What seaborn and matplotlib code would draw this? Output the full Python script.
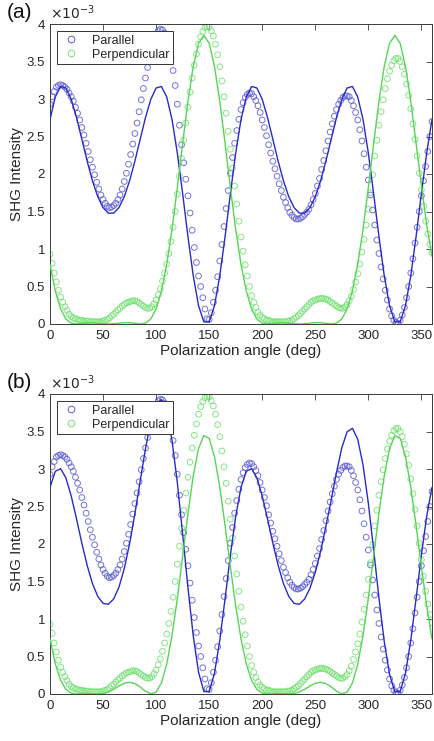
import numpy as np
import matplotlib
matplotlib.use("Agg")
import matplotlib.pyplot as plt
from matplotlib.lines import Line2D
import seaborn as sns

# ---------------- data (intensity in units of 1e-3) ----------------
# measured points every 2 deg, 0..360
angles_data = np.linspace(0, 360, 181)
parallel_data = [
    2.93, 3.03, 3.10, 3.16, 3.18, 3.19, 3.18, 3.16, 3.13, 3.08,
    3.03, 2.97, 2.89, 2.81, 2.72, 2.62, 2.52, 2.41, 2.30, 2.19,
    2.09, 1.99, 1.89, 1.80, 1.72, 1.66, 1.61, 1.57, 1.55, 1.56,
    1.58, 1.61, 1.66, 1.72, 1.80, 1.90, 2.01, 2.13, 2.26, 2.40,
    2.54, 2.68, 2.83, 2.99, 3.14, 3.28, 3.42, 3.55, 3.67, 3.77,
    3.86, 3.91, 3.93, 3.92, 3.88, 3.80, 3.69, 3.55, 3.38, 3.18,
    2.93, 2.65, 2.39, 2.15, 1.93, 1.71, 1.48, 1.25, 1.02, 0.82,
    0.64, 0.50, 0.35, 0.20, 0.07, 0.06, 0.15, 0.29, 0.45, 0.63,
    0.84, 1.06, 1.30, 1.54, 1.78, 2.01, 2.22, 2.41, 2.58, 2.73,
    2.86, 2.95, 3.02, 3.06, 3.08, 3.07, 3.03, 2.98, 2.91, 2.82,
    2.72, 2.62, 2.51, 2.39, 2.28, 2.17, 2.07, 1.97, 1.87, 1.78,
    1.69, 1.62, 1.55, 1.49, 1.45, 1.42, 1.40, 1.40, 1.41, 1.43,
    1.46, 1.49, 1.53, 1.59, 1.66, 1.74, 1.84, 1.94, 2.06, 2.18,
    2.31, 2.44, 2.56, 2.67, 2.77, 2.86, 2.93, 2.98, 3.02, 3.04,
    3.04, 3.03, 2.98, 2.91, 2.82, 2.72, 2.59, 2.44, 2.27, 2.09,
    1.92, 1.72, 1.52, 1.32, 1.12, 0.94, 0.76, 0.60, 0.45, 0.32,
    0.20, 0.11, 0.05, 0.02, 0.01, 0.05, 0.12, 0.22, 0.35, 0.50,
    0.68, 0.87, 1.08, 1.29, 1.50, 1.71, 1.91, 2.10, 2.30, 2.50,
    2.70,
]
perpendicular_data = [
    0.93, 0.81, 0.68, 0.56, 0.45, 0.36, 0.29, 0.23, 0.18, 0.13,
    0.10, 0.08, 0.07, 0.06, 0.05, 0.05, 0.04, 0.04, 0.04, 0.03,
    0.03, 0.03, 0.03, 0.03, 0.03, 0.04, 0.05, 0.06, 0.08, 0.11,
    0.13, 0.16, 0.19, 0.21, 0.24, 0.26, 0.28, 0.29, 0.30, 0.31,
    0.31, 0.30, 0.28, 0.26, 0.24, 0.22, 0.21, 0.21, 0.23, 0.27,
    0.32, 0.39, 0.47, 0.57, 0.68, 0.80, 0.94, 1.10, 1.29, 1.50,
    1.73, 1.97, 2.21, 2.45, 2.68, 2.89, 3.09, 3.28, 3.45, 3.60,
    3.73, 3.83, 3.90, 3.95, 3.97, 3.96, 3.91, 3.84, 3.73, 3.59,
    3.43, 3.24, 3.03, 2.81, 2.57, 2.33, 2.08, 1.84, 1.60, 1.37,
    1.16, 0.97, 0.79, 0.64, 0.50, 0.38, 0.29, 0.22, 0.16, 0.12,
    0.09, 0.07, 0.05, 0.05, 0.04, 0.03, 0.03, 0.03, 0.03, 0.03,
    0.03, 0.03, 0.04, 0.04, 0.05, 0.07, 0.09, 0.11, 0.14, 0.17,
    0.20, 0.23, 0.26, 0.29, 0.31, 0.32, 0.33, 0.34, 0.34, 0.34,
    0.33, 0.32, 0.30, 0.28, 0.26, 0.24, 0.22, 0.21, 0.21, 0.23,
    0.26, 0.31, 0.37, 0.46, 0.56, 0.67, 0.80, 0.96, 1.13, 1.32,
    1.53, 1.75, 1.99, 2.24, 2.45, 2.65, 2.83, 2.99, 3.14, 3.27,
    3.37, 3.45, 3.51, 3.54, 3.54, 3.50, 3.43, 3.33, 3.20, 3.05,
    2.87, 2.67, 2.46, 2.24, 2.01, 1.79, 1.57, 1.37, 1.20, 1.06,
    0.95,
]

# fitted curves every 5 deg, 0..360
angles_fit = np.linspace(0, 360, 73)
fit_a_parallel = [
    2.726, 3.028, 3.167, 3.147, 2.996, 2.753, 2.464, 2.172,
    1.909, 1.698, 1.552, 1.478, 1.478, 1.552, 1.698, 1.909,
    2.172, 2.464, 2.753, 2.996, 3.147, 3.167, 3.028, 2.726,
    2.280, 1.738, 1.166, 0.643, 0.244, 0.028, 0.028, 0.244,
    0.643, 1.166, 1.738, 2.280, 2.726, 3.028, 3.167, 3.147,
    2.996, 2.753, 2.464, 2.172, 1.909, 1.698, 1.552, 1.478,
    1.478, 1.552, 1.698, 1.909, 2.172, 2.464, 2.753, 2.996,
    3.147, 3.167, 3.028, 2.726, 2.280, 1.738, 1.166, 0.643,
    0.244, 0.028, 0.028, 0.244, 0.643, 1.166, 1.738, 2.280,
    2.726,
]
fit_a_perpendicular = [
    0.795, 0.439, 0.201, 0.067, 0.011, 0.000, 0.009, 0.017,
    0.018, 0.011, 0.003, 0.000, 0.003, 0.011, 0.018, 0.017,
    0.009, 0.000, 0.011, 0.067, 0.201, 0.439, 0.795, 1.264,
    1.818, 2.408, 2.969, 3.435, 3.742, 3.849, 3.742, 3.435,
    2.969, 2.408, 1.818, 1.264, 0.795, 0.439, 0.201, 0.067,
    0.011, 0.000, 0.009, 0.017, 0.018, 0.011, 0.003, 0.000,
    0.003, 0.011, 0.018, 0.017, 0.009, 0.000, 0.011, 0.067,
    0.201, 0.439, 0.795, 1.264, 1.818, 2.408, 2.969, 3.435,
    3.742, 3.849, 3.742, 3.435, 2.969, 2.408, 1.850, 1.320,
    0.900,
]
fit_b_parallel = [
    2.755, 2.970, 3.004, 2.881, 2.640, 2.334, 2.012, 1.716,
    1.473, 1.302, 1.208, 1.196, 1.267, 1.425, 1.672, 2.003,
    2.403, 2.842, 3.272, 3.636, 3.871, 3.924, 3.762, 3.382,
    2.817, 2.133, 1.419, 0.774, 0.290, 0.033, 0.032, 0.277,
    0.716, 1.272, 1.852, 2.369, 2.755, 2.970, 3.004, 2.881,
    2.640, 2.334, 2.012, 1.716, 1.473, 1.302, 1.208, 1.196,
    1.267, 1.411, 1.622, 1.903, 2.235, 2.586, 2.955, 3.283,
    3.496, 3.543, 3.397, 3.054, 2.544, 1.926, 1.281, 0.699,
    0.262, 0.030, 0.032, 0.277, 0.716, 1.272, 1.852, 2.369,
    2.755,
]
fit_b_perpendicular = [
    0.735, 0.402, 0.182, 0.061, 0.011, 0.000, 0.004, 0.006,
    0.003, 0.000, 0.006, 0.027, 0.063, 0.107, 0.143, 0.157,
    0.139, 0.094, 0.037, 0.001, 0.025, 0.148, 0.397, 0.779,
    1.274, 1.839, 2.408, 2.909, 3.272, 3.446, 3.408, 3.166,
    2.760, 2.246, 1.697, 1.176, 0.735, 0.402, 0.182, 0.061,
    0.011, 0.000, 0.004, 0.006, 0.003, 0.000, 0.006, 0.027,
    0.063, 0.107, 0.143, 0.157, 0.139, 0.094, 0.037, 0.001,
    0.025, 0.148, 0.397, 0.779, 1.274, 1.839, 2.408, 2.909,
    3.272, 3.446, 3.408, 3.166, 2.760, 2.246, 1.697, 1.176,
    0.735,
]

x_ticks = [0, 50, 100, 150, 200, 250, 300, 350]
y_ticks = [0, 0.5, 1, 1.5, 2, 2.5, 3, 3.5, 4]
series_labels = ["Parallel", "Perpendicular"]
panel_tags = ["(a)", "(b)"]

# ---------------- styling ----------------
sns.set_theme(style="white")
plt.rcParams["font.family"] = ["Liberation Sans", "DejaVu Sans"]

BLUE_LINE = "#2a2ac6"
BLUE_MARK = "#5a5ad2"
GREEN_LINE = "#55d655"
GREEN_MARK = "#72e072"
AX_COL = "#3a3a3a"
TXT_COL = "#262626"

W, H = 434, 741
fig = plt.figure(figsize=(W / 100, H / 100), dpi=100)
ax_a = fig.add_axes([50 / W, 1 - 324 / H, 382 / W, 300 / H])
ax_b = fig.add_axes([50 / W, 1 - 694 / H, 382 / W, 300 / H])

panels = [
    (ax_a, fit_a_parallel, fit_a_perpendicular, panel_tags[0], 13),
    (ax_b, fit_b_parallel, fit_b_perpendicular, panel_tags[1], 383),
]

for ax, fpar, fperp, tag, tag_y in panels:
    sns.scatterplot(x=angles_data, y=parallel_data, ax=ax, marker="o", s=17,
                    facecolor="none", edgecolor=BLUE_MARK, linewidth=0.7,
                    alpha=0.85, legend=False, zorder=2)
    sns.scatterplot(x=angles_data, y=perpendicular_data, ax=ax, marker="o", s=17,
                    facecolor="none", edgecolor=GREEN_MARK, linewidth=0.7,
                    alpha=0.85, legend=False, zorder=2)
    sns.lineplot(x=angles_fit, y=fpar, ax=ax, color=BLUE_LINE, linewidth=1.0,
                 legend=False, zorder=3)
    sns.lineplot(x=angles_fit, y=fperp, ax=ax, color=GREEN_LINE, linewidth=1.0,
                 legend=False, zorder=3)

    ax.set_xlim(0, 360)
    ax.set_ylim(0, 4)
    ax.set_xticks(x_ticks)
    ax.set_yticks(y_ticks)
    ax.set_yticklabels([f"{v:g}" for v in y_ticks])
    ax.tick_params(direction="in", top=True, right=True, length=4, width=0.6,
                   colors=AX_COL, labelsize=9.5)
    ax.tick_params(axis="x", pad=4.5, labelcolor=TXT_COL)
    ax.tick_params(axis="y", pad=3.5, labelcolor=TXT_COL)
    for sp in ax.spines.values():
        sp.set_color(AX_COL)
        sp.set_linewidth(0.7)
    ax.set_xlabel("Polarization angle (deg)", fontsize=11, color=TXT_COL, labelpad=1)
    ax.set_ylabel("SHG Intensity", fontsize=11, color=TXT_COL, labelpad=2)
    ax.text(0.0, 1.006, r"$\times10^{-3}$", transform=ax.transAxes, ha="left",
            va="bottom", fontsize=10, color=TXT_COL)
    fig.text(7 / W, 1 - tag_y / H, tag, fontsize=15, ha="left", va="center",
             color="#111111")

    handles = [
        Line2D([], [], linestyle="none", marker="o", markersize=4.8,
               markerfacecolor="none", markeredgecolor=BLUE_MARK, markeredgewidth=0.7),
        Line2D([], [], linestyle="none", marker="o", markersize=4.8,
               markerfacecolor="none", markeredgecolor=GREEN_MARK, markeredgewidth=0.7),
    ]
    leg = ax.legend(handles, series_labels, loc="upper left",
                    bbox_to_anchor=(0.018, 0.977), borderaxespad=0,
                    fancybox=False, framealpha=1, edgecolor="#333333",
                    fontsize=9, handlelength=1.6, handletextpad=0.9,
                    labelspacing=0.15, borderpad=0.3)
    leg.get_frame().set_linewidth(0.7)
    leg.set_zorder(5)

fig.savefig("out.png", dpi=100)
